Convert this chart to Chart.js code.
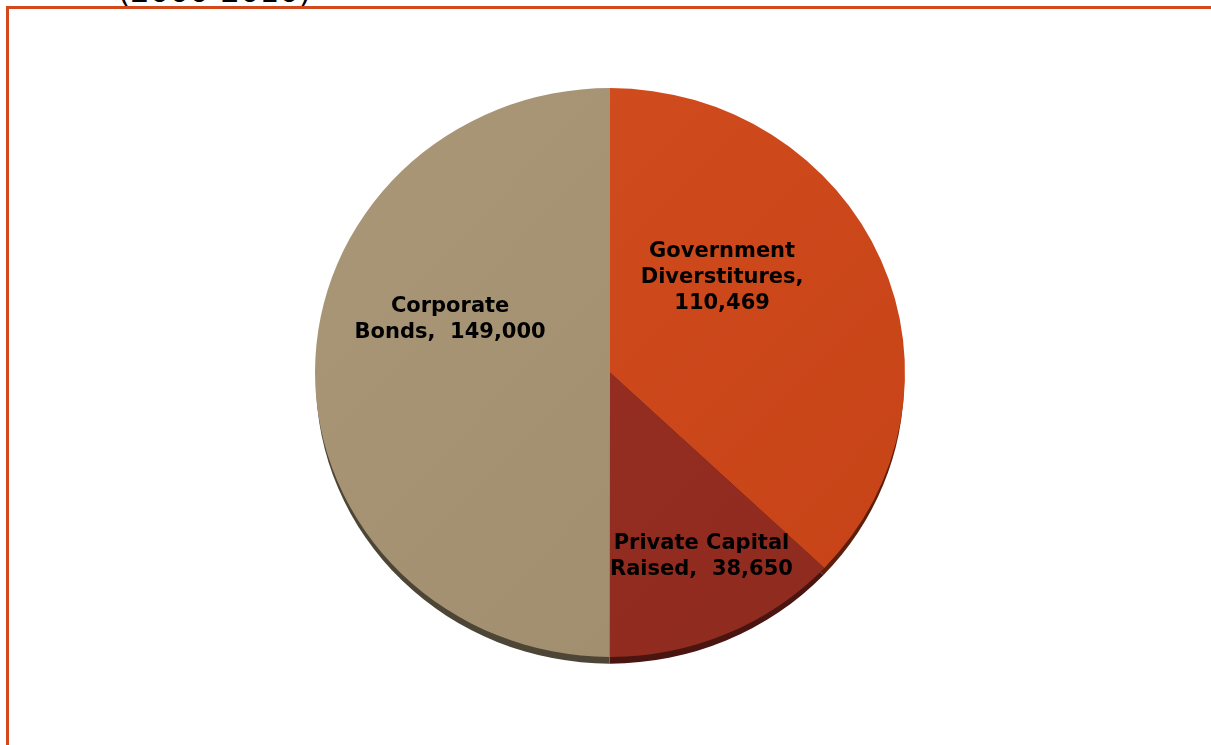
<!DOCTYPE html>
<html>
<head>
<meta charset="utf-8">
<script src="https://cdn.jsdelivr.net/npm/chart.js@4.4.0/dist/chart.umd.min.js"></script>
<style>
  body { margin: 0; background: #fff; overflow: hidden; }
  #wrap { position: relative; width: 1211px; height: 745px; overflow: hidden; }
  #frame { position: absolute; left: 6px; top: 6px; width: 1300px; height: 900px; border-left: 3px solid #d24a1c; border-top: 3px solid #d24a1c; }
  #subtitle { position: absolute; left: 118px; top: -27px; font: 31px "DejaVu Sans", sans-serif; color: #000; }
  canvas { position: absolute; left: 0; top: 0; }
</style>
</head>
<body>
<div id="wrap">
  <div id="subtitle">(2000-2010)</div>
  <div id="frame"></div>
  <canvas id="pie1" width="1211" height="745"></canvas>
</div>
<script>
const labels = ['Government Diverstitures', 'Private Capital Raised', 'Corporate Bonds'];
const labelLines = [['Government', 'Diverstitures,', '110,469'], ['Private Capital', 'Raised,  38,650'], ['Corporate', 'Bonds,  149,000']];
const values = [110469, 38650, 149000];

const colorsLight = ['#d34e20', '#9b3024', '#a99777'];
const colorsDark = ['#c64317', '#8e2a1f', '#9e8c6c'];
const edgeColors = ['#5e1e0c', '#4a1510', '#4d4535'];
// label anchor, in units of the radius from the centre
const labelPos = [[0.38, -0.335], [0.31, 0.646], [-0.542, -0.185]];

const squash = 0.964;

// slight 3D look: flatten the pie and draw a dark rim below it
const tiltPlugin = {
  id: 'tilt',
  beforeDatasetsDraw(chart) {
    const ctx = chart.ctx;
    const arcs = chart.getDatasetMeta(0).data;
    const cx = arcs[0].x, cy = arcs[0].y;
    ctx.save();
    ctx.translate(cx, cy);
    ctx.scale(1, squash);
    ctx.translate(-cx, -cy);
    arcs.forEach((a, i) => {
      ctx.beginPath();
      ctx.moveTo(a.x, a.y + 8);
      ctx.arc(a.x, a.y + 8, a.outerRadius - 1, a.startAngle, a.endAngle);
      ctx.closePath();
      ctx.fillStyle = edgeColors[i];
      ctx.fill();
    });
  },
  afterDatasetsDraw(chart) {
    const ctx = chart.ctx;
    ctx.restore();
    const arcs = chart.getDatasetMeta(0).data;
    ctx.save();
    ctx.font = 'bold 21px "DejaVu Sans", Verdana, sans-serif';
    ctx.fillStyle = '#000';
    ctx.textAlign = 'center';
    ctx.textBaseline = 'middle';
    arcs.forEach((a, i) => {
      const r = a.outerRadius;
      const x = a.x + labelPos[i][0] * r;
      const y = a.y + labelPos[i][1] * r * squash;
      const lines = labelLines[i];
      const lh = 26;
      lines.forEach((t, k) => {
        ctx.fillText(t, x, y + (k - (lines.length - 1) / 2) * lh);
      });
    });
    ctx.restore();
  }
};

function sliceFill(context) {
  const chart = context.chart;
  const area = chart.chartArea;
  if (!area) return colorsLight[context.dataIndex];
  const g = chart.ctx.createLinearGradient(300, 90, 910, 660);
  g.addColorStop(0, colorsLight[context.dataIndex]);
  g.addColorStop(1, colorsDark[context.dataIndex]);
  return g;
}

new Chart(document.getElementById('pie1'), {
  type: 'pie',
  data: {
    labels: labels,
    datasets: [{
      data: values,
      backgroundColor: sliceFill,
      borderWidth: 0,
      radius: 295
    }]
  },
  options: {
    responsive: false,
    animation: false,
    layout: { padding: { left: 9, right: 0, top: 0, bottom: 0 } },
    plugins: {
      legend: { display: false },
      tooltip: { enabled: false }
    }
  },
  plugins: [tiltPlugin]
});
</script>
</body>
</html>
